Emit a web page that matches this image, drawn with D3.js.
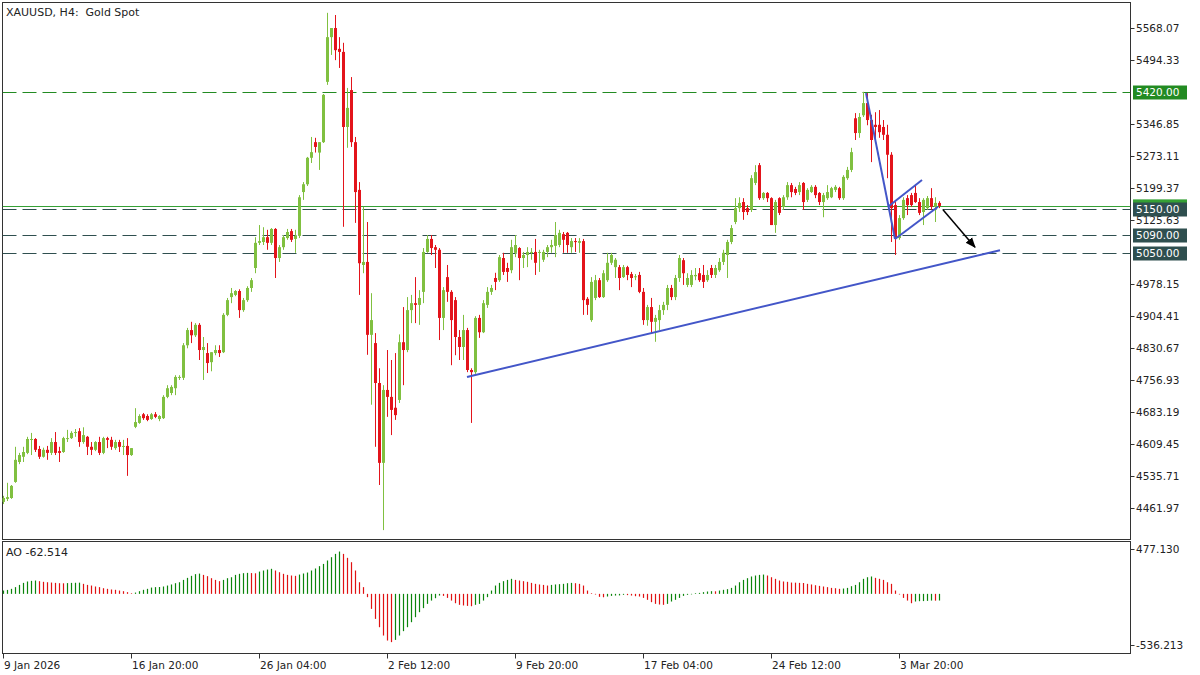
<!DOCTYPE html>
<html>
<head>
<meta charset="utf-8">
<script src="https://cdn.jsdelivr.net/npm/d3@7"></script>
<style>
body { margin: 0; background: #fff; }
text { font-family: "DejaVu Sans", sans-serif; fill: #222; white-space: pre; }
</style>
</head>
<body>
<svg id="chart" width="1200" height="675"></svg>
<script>
/*************************************************************************/
// XAUUSD H4 bars (price units)

const opens = [
4476,4483,4485,4522,4568,4580,4589,4619,4621,4598, 4580,4596,4589,4614,4593,4591,4621,4623,4635,4639,
4614,4626,4603,4596,4614,4589,4623,4619,4600,4614, 4603,4605,4584,4649,4658,4678,4674,4667,4678,4667,
4669,4718,4727,4738,4762,4762,4837,4872,4860,4884, 4826,4819,4798,4819,4826,4821,4907,4948,4953,4962,
4918,4941,4969,5015,5073,5075,5086,5073,5105,5038, 5063,5084,5100,5082,5089,5190,5208,5269,5305,5281,
5305,5444,5547,5568,5520,5513,5340,5425,5305,5195, 5022,5029,4861,4842,4750,4566,4734,4718,4693,4711,
4844,4826,4918,4934,4930,4960,5052,5082,5063,5057, 4900,4994,4960,4941,4856,4833,4872,4780,4775,4900,
4867,4930,4960,4992,4987,5038,5015,5010,5050,5061, 5038,5045,5050,5052,5050,5034,5052,5063,5066,5068,
5093,5096,5063,5077,5073,5077,4944,4895,4946,4987, 4948,4987,5027,5017,5017,4994,5017,5001,4994,4999,
4960,4895,4925,4891,4895,4918,4930,4969,4948,4992, 5033,4976,4976,4996,5003,4999,4987,5015,4999,5010,
5029,5045,5075,5121,5153,5167,5153,5149,5211,5252, 5176,5188,5176,5114,5176,5156,5178,5206,5197,5190,
5211,5172,5190,5202,5188,5167,5176,5178,5195,5199, 5176,5222,5241,5360,5326,5367,5395,5356,5345,5345,
5340,5322,5276,5160,5084,5130,5176,5183,5188,5167, 5144,5153,5176,5156,5165
];
const highs = [
4490,4520,4515,4603,4589,4603,4626,4635,4623,4605, 4601,4605,4623,4637,4603,4626,4642,4639,4644,4646,
4648,4628,4614,4616,4626,4626,4626,4626,4619,4619, 4619,4623,4600,4692,4678,4681,4678,4681,4683,4676,
4722,4745,4745,4768,4768,4842,4877,4891,4888,4888, 4856,4842,4821,4837,4837,4911,4946,4969,4964,4966,
4946,4973,4992,5086,5114,5109,5103,5107,5107,5068, 5091,5105,5105,5103,5183,5213,5271,5317,5315,5305,
5416,5603,5568,5598,5547,5534,5430,5455,5317,5213, 5156,5121,4957,4865,4784,4745,4826,4803,4819,4862,
4925,4948,4953,4994,4964,5061,5091,5091,5068,5061, 4971,5022,4964,4948,4872,4907,4877,4784,4904,4907,
4941,4971,4976,5004,5045,5050,5027,5080,5091,5063, 5052,5063,5061,5082,5057,5057,5068,5080,5121,5103,
5098,5098,5084,5084,5084,5082,4948,4994,4999,4992, 5010,5050,5050,5038,5022,5022,5020,5006,5001,5006,
4969,4930,4946,4907,4930,4937,4976,4976,4999,5045, 5038,5003,5010,5015,5015,5022,5010,5022,5022,5038,
5057,5080,5114,5176,5178,5176,5160,5229,5252,5257, 5190,5190,5178,5172,5178,5183,5213,5211,5202,5213,
5213,5199,5206,5206,5190,5188,5206,5202,5206,5202, 5229,5248,5292,5372,5372,5421,5418,5368,5374,5379,
5356,5345,5282,5167,5137,5178,5183,5188,5206,5176, 5176,5181,5199,5178,5169
];
const lows = [
4471,4478,4483,4520,4563,4568,4586,4584,4591,4575, 4578,4573,4584,4584,4568,4589,4614,4621,4626,4603,
4610,4584,4584,4593,4584,4586,4600,4596,4596,4591, 4584,4536,4582,4646,4656,4665,4662,4665,4669,4662,
4667,4715,4722,4722,4757,4757,4830,4842,4856,4803, 4757,4773,4777,4814,4810,4819,4904,4934,4950,4900,
4914,4937,4960,5003,5068,5068,5057,5068,4992,5029, 5057,5080,5075,5050,5084,5172,5204,5257,5281,5241,
5303,5437,5506,5494,5476,5110,5292,5294,5119,4953, 5003,4815,4700,4603,4515,4411,4672,4630,4665,4704,
4745,4821,4888,4888,4884,4934,5050,5045,5015,4849, 4872,4937,4791,4814,4803,4803,4775,4658,4771,4854,
4865,4923,4953,4964,4983,4999,4983,5003,5040,4987, 5015,5017,5034,4999,5006,5029,5040,5050,5040,5063,
5050,5050,5050,5052,5050,4907,4907,4891,4941,4946, 4946,4983,5022,4992,4964,4992,4987,4971,4987,4957,
4884,4882,4865,4845,4872,4907,4918,4941,4941,4983, 4976,4971,4971,4987,4983,4969,4983,4992,4992,5006,
5022,4992,5070,5116,5144,5126,5137,5144,5206,5172, 5172,5167,5114,5096,5137,5149,5172,5178,5183,5183,
5149,5167,5188,5176,5160,5132,5172,5176,5190,5172, 5172,5218,5236,5310,5315,5363,5344,5259,5310,5315,
5310,5222,5075,5045,5080,5126,5137,5156,5165,5137, 5114,5149,5149,5121,5153
];
const closes = [
4485,4487,4513,4573,4584,4591,4621,4621,4596,4580, 4596,4589,4614,4589,4589,4623,4623,4635,4637,4614,
4630,4603,4596,4614,4589,4623,4619,4603,4614,4603, 4605,4584,4600,4660,4674,4669,4665,4678,4672,4674,
4718,4738,4741,4764,4764,4837,4872,4860,4884,4826, 4833,4796,4821,4826,4819,4907,4941,4957,4962,4918,
4941,4969,4987,5073,5077,5086,5073,5105,5038,5063, 5086,5098,5080,5089,5178,5208,5269,5282,5294,5305,
5414,5547,5568,5517,5513,5340,5384,5305,5190,5026, 5029,4861,4895,4750,4566,4734,4718,4688,4676,4844,
4826,4918,4934,4930,4946,5052,5082,5061,5057,4900, 4964,4960,4895,4856,4833,4872,4780,4775,4900,4867,
4934,4960,4969,4983,5040,5006,5006,5063,5068,5038, 5045,5052,5052,5027,5052,5052,5063,5068,5091,5096,
5080,5068,5077,5075,5077,4941,4930,4983,4987,4948, 5003,5027,5045,5034,4992,5017,4999,4992,4996,4960,
4895,4925,4891,4900,4918,4930,4969,4948,4992,5038, 5003,4992,4999,4999,4987,4983,4999,4999,5015,5029,
5050,5075,5107,5153,5165,5144,5144,5222,5236,5176, 5188,5176,5114,5167,5142,5178,5206,5190,5188,5206,
5167,5195,5202,5183,5167,5183,5190,5199,5202,5176, 5225,5241,5282,5326,5363,5395,5356,5310,5340,5328,
5322,5276,5153,5084,5130,5172,5160,5160,5167,5142, 5172,5176,5156,5165,5158
];

// Awesome Oscillator histogram, one value per bar
const aoValues = [
31,37,47,63,84,103,116,122,125,119, 113,109,106,103,100,99,101,103,104,105,
94,84,78,69,63,53,47,41,38,31, 25,16,6,12,25,38,47,59,63,64,
69,78,88,100,109,131,150,169,185,190, 178,166,147,131,119,131,147,156,178,188,
194,197,195,193,209,219,228,235,219,203, 188,178,172,169,181,191,200,219,238,260,
281,313,344,375,397,375,338,297,219,109, 63,-31,-141,-235,-313,-391,-438,-453,-432,-391,
-350,-313,-266,-219,-172,-134,-94,-63,-41,-16, -19,-38,-63,-88,-103,-109,-113,-116,-103,-94,
-63,-31,31,78,103,119,131,141,131,125, 119,113,103,94,88,84,78,84,88,91,
94,100,103,100,94,78,31,6,-6,-28, -32,-25,-19,-16,-15,-9,-12,-16,-22,-25,
-38,-56,-78,-94,-100,-103,-94,-72,-56,-38, -19,-9,-5,6,9,16,22,25,24,31,
38,44,56,78,109,131,147,163,172,178, 181,172,156,141,125,116,113,106,105,103,
102,94,88,81,75,69,63,56,53,47, 50,56,72,84,109,141,156,163,150,141,
131,109,94,31,-6,-38,-63,-88,-72,-69, -68,-66,-63,-64,-62.514
];

const priceTicks = [5568.07,5494.33,5346.85,5273.11,5199.37,5125.63,4978.15,4904.41,4830.67,4756.93,4683.19,4609.45,4535.71,4461.97];
const timeTickIndex = [0,32,64,96,128,160,192,224];
const timeTickLabels = ["9 Jan 2026","16 Jan 20:00","26 Jan 04:00","2 Feb 12:00","9 Feb 20:00","17 Feb 04:00","24 Feb 12:00","3 Mar 20:00"];

const levels = [5420, 5150, 5090, 5050];
const bidPrice = 5157;

// drawn objects, in (bar index, price)
const trendLine = [[116, 4764], [249.25, 5056]];
const flagPole  = [[215.75, 5418], [223, 5082]];
const flagLow   = [[223, 5082], [233.75, 5156]];
const flagHigh  = [[221.25, 5156], [229.75, 5218]];
const arrowLine = [[235, 5149], [243, 5063]];

/*************************************************************************/

const UP = '#80c040', DOWN = '#e3141b';
const AO_UP = '#0b850b', AO_DOWN = '#e01212';
const BLUE = '#4356c8';

const svg = d3.select('#chart');
const plotL = 2.5, plotR = 1130.5;
const mainT = 2.5, mainB = 539.5, aoT = 541.5, aoB = 653.5;

const x = d3.scaleLinear().domain([0, 234]).range([3, 939]);
const y = d3.scaleLinear().domain([4461.97, 5568.07]).range([508, 28]);
const yAO = d3.scaleLinear().domain([-536.213, 477.13]).range([651, 543]);

svg.append('rect').attr('width', 1200).attr('height', 675).attr('fill', '#fff');

const defs = svg.append('defs');
defs.append('clipPath').attr('id', 'clipMain')
    .append('rect').attr('x', plotL).attr('y', mainT).attr('width', plotR - plotL).attr('height', mainB - mainT);
defs.append('marker').attr('id', 'arrowHead')
    .attr('viewBox', '0 0 10 10').attr('refX', 9).attr('refY', 5)
    .attr('markerWidth', 7).attr('markerHeight', 7).attr('orient', 'auto')
    .append('path').attr('d', 'M0,1 L10,5 L0,9 z').attr('fill', '#000');

// frames
svg.append('rect').attr('x', plotL).attr('y', mainT).attr('width', plotR - plotL).attr('height', mainB - mainT)
    .attr('fill', 'none').attr('stroke', '#333');
svg.append('rect').attr('x', plotL).attr('y', aoT).attr('width', plotR - plotL).attr('height', aoB - aoT)
    .attr('fill', 'none').attr('stroke', '#333');

const main = svg.append('g').attr('clip-path', 'url(#clipMain)');

// bid line
main.append('line')
    .attr('x1', plotL).attr('x2', plotR)
    .attr('y1', Math.round(y(bidPrice)) + 0.5).attr('y2', Math.round(y(bidPrice)) + 0.5)
    .attr('stroke', '#35a035');

// horizontal levels
const levelColor = p => p === 5420 ? '#228b22' : '#2f4f4f';
main.selectAll('line.level').data(levels).enter().append('line')
    .attr('class', 'level')
    .attr('x1', plotL).attr('x2', plotR)
    .attr('y1', d => Math.round(y(d)) + 0.5).attr('y2', d => Math.round(y(d)) + 0.5)
    .attr('stroke', levelColor)
    .attr('stroke-dasharray', '14 6');

// candles
const bars = d3.range(closes.length).map(i => ({ i: i, o: opens[i], h: highs[i], l: lows[i], c: closes[i] }));

main.selectAll('line.wick').data(bars).enter().append('line')
    .attr('class', 'wick')
    .attr('x1', d => Math.round(x(d.i)) + 0.5).attr('x2', d => Math.round(x(d.i)) + 0.5)
    .attr('y1', d => y(d.h)).attr('y2', d => y(d.l))
    .attr('stroke', d => d.c >= d.o ? UP : DOWN);

main.selectAll('rect.body').data(bars).enter().append('rect')
    .attr('class', 'body')
    .attr('x', d => Math.round(x(d.i)) - 1)
    .attr('width', 3)
    .attr('y', d => y(Math.max(d.o, d.c)))
    .attr('height', d => Math.max(1, Math.abs(y(d.o) - y(d.c))))
    .attr('fill', d => d.c >= d.o ? UP : DOWN);

// drawn lines
const toXY = pts => pts.map(p => [x(p[0]), y(p[1])]);
[trendLine, flagPole, flagLow, flagHigh].forEach(pts => {
    main.append('path')
        .attr('d', d3.line()(toXY(pts)))
        .attr('fill', 'none').attr('stroke', BLUE).attr('stroke-width', 2);
});
main.append('path')
    .attr('d', d3.line()(toXY(arrowLine)))
    .attr('fill', 'none').attr('stroke', '#000').attr('stroke-width', 1.5)
    .attr('marker-end', 'url(#arrowHead)');

// price axis
const axisG = svg.append('g');
axisG.selectAll('line.ptick').data(priceTicks).enter().append('line')
    .attr('x1', plotR).attr('x2', plotR + 4)
    .attr('y1', d => Math.round(y(d)) + 0.5).attr('y2', d => Math.round(y(d)) + 0.5)
    .attr('stroke', '#333');
axisG.selectAll('text.ptick').data(priceTicks).enter().append('text')
    .attr('x', plotR + 5.5).attr('y', d => y(d))
    .attr('dy', '0.35em').attr('font-size', 10.5)
    .text(d => d.toFixed(2));

// bid label (mostly hidden) and level labels
axisG.append('rect')
    .attr('x', 1133).attr('y', y(bidPrice) - 7).attr('width', 54).attr('height', 14)
    .attr('fill', '#35a035');
levels.forEach(p => {
    axisG.append('rect')
        .attr('x', 1133).attr('y', Math.round(y(p)) - 6.5).attr('width', 54).attr('height', 14)
        .attr('fill', levelColor(p));
    axisG.append('text')
        .attr('x', 1136).attr('y', Math.round(y(p)) + 0.5)
        .attr('dy', '0.35em').attr('font-size', 10.5)
        .style('fill', '#fff')
        .text(p.toFixed(2));
});

// AO histogram
const aoG = svg.append('g');
aoG.selectAll('line.ao').data(aoValues).enter().append('line')
    .attr('x1', (d, i) => Math.round(x(i)) + 0.5).attr('x2', (d, i) => Math.round(x(i)) + 0.5)
    .attr('y1', yAO(0)).attr('y2', d => yAO(d))
    .attr('stroke', (d, i) => (i === 0 || d >= aoValues[i - 1]) ? AO_UP : AO_DOWN)
    .attr('stroke-width', 1.2);

aoG.append('text').attr('x', 6).attr('y', 556).attr('font-size', 11)
    .text('AO ' + aoValues[aoValues.length - 1].toFixed(3));

[[477.13, 549], [-536.213, 645]].forEach(a => {
    aoG.append('line').attr('x1', plotR).attr('x2', plotR + 4)
        .attr('y1', a[1] + 0.5).attr('y2', a[1] + 0.5).attr('stroke', '#333');
    aoG.append('text').attr('x', plotR + 5.5).attr('y', a[1]).attr('dy', '0.35em')
        .attr('font-size', 10.5).text(a[0].toFixed(3));
});

// time axis
const tG = svg.append('g');
tG.selectAll('line.ttick').data(timeTickIndex).enter().append('line')
    .attr('x1', d => Math.round(x(d)) + 0.5).attr('x2', d => Math.round(x(d)) + 0.5)
    .attr('y1', aoB).attr('y2', aoB + 5)
    .attr('stroke', '#333');
tG.selectAll('text.ttick').data(timeTickIndex).enter().append('text')
    .attr('x', d => Math.round(x(d)) + 1).attr('y', 669)
    .attr('font-size', 10.5)
    .text((d, i) => timeTickLabels[i]);

// title
svg.append('text').attr('x', 6).attr('y', 16).attr('font-size', 11)
    .text('XAUUSD, H4:  Gold Spot');
</script>
</body>
</html>
